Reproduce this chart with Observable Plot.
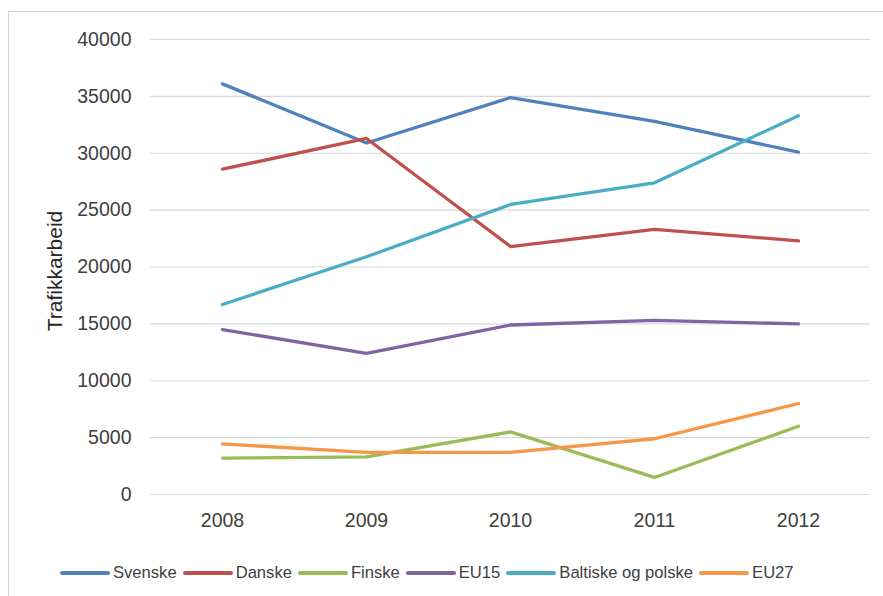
<!DOCTYPE html>
<html>
<head>
<meta charset="utf-8">
<script src="https://cdn.jsdelivr.net/npm/d3@7"></script>
<script src="https://cdn.jsdelivr.net/npm/@observablehq/plot@0.6"></script>
<style>
  html, body { margin: 0; padding: 0; background: #fff; }
  #wrap { position: relative; width: 883px; height: 596px; overflow: hidden; font-family: "Liberation Sans", Arial, sans-serif; }
  #frame { position: absolute; left: 8px; top: 11px; width: 900px; height: 620px; border: 1.5px solid #d4d4d4; box-sizing: border-box; }
  #chart { position: absolute; left: 0; top: 0; }
  #legend { position: absolute; left: 60px; top: 563px; display: flex; align-items: center; font-size: 16.6px; color: #404040; white-space: nowrap; }
  .item { display: flex; align-items: center; margin-right: 6px; }
  .sw { display: inline-block; width: 50px; height: 3.5px; border-radius: 2px; margin-right: 3px; }
</style>
</head>
<body>
<div id="wrap">
  <div id="frame"></div>
  <div id="chart"></div>
  <div id="legend"></div>
</div>
<script>
// Trafikkarbeid by nationality, 2008–2012
const years = ["2008", "2009", "2010", "2011", "2012"];
const svenske = [36100, 30900, 34900, 32800, 30100];
const danske  = [28600, 31300, 21800, 23300, 22300];
const finske  = [3200, 3300, 5500, 1500, 6000];
const eu15    = [14500, 12400, 14900, 15300, 15000];
const baltiske = [16700, 20900, 25500, 27400, 33300];
const eu27    = [4450, 3700, 3700, 4900, 8000];
const yTicks = [0, 5000, 10000, 15000, 20000, 25000, 30000, 35000, 40000];
const yTitle = "Trafikkarbeid";

const seriesNames = ["Svenske", "Danske", "Finske", "EU15", "Baltiske og polske", "EU27"];
const seriesValues = [svenske, danske, finske, eu15, baltiske, eu27];
const colors = ["#4F81BD", "#C0504D", "#9BBB59", "#8064A2", "#4BACC6", "#F79646"];

const rows = seriesNames.flatMap((name, i) =>
  years.map((year, j) => ({ name, year, value: seriesValues[i][j] }))
);

const chart = Plot.plot({
  width: 883,
  height: 545,
  marginLeft: 150,
  marginRight: 13,
  marginTop: 39,
  marginBottom: 51,
  style: { fontFamily: "Liberation Sans, Arial, sans-serif", fontSize: "19px", color: "#404040", background: "transparent" },
  x: { type: "point", domain: years, padding: 0.5, label: null },
  y: { domain: [0, 40000], label: null },
  color: { domain: seriesNames, range: colors },
  marks: [
    Plot.gridY(yTicks, { stroke: "#d9d9d9", strokeOpacity: 1, strokeWidth: 1.2 }),
    Plot.axisX({ tickSize: 0, tickPadding: 19, label: null, fontSize: 19.5 }),
    Plot.axisY(yTicks, { tickSize: 0, tickPadding: 19, tickFormat: d => String(d), fontSize: 19.5, label: null }),
    Plot.text([yTitle], { frameAnchor: "left", textAnchor: "middle", dx: -95, dy: 4, rotate: -90, fontSize: 21, fill: "#262626", text: d => d }),
    Plot.line(rows, { x: "year", y: "value", z: "name", stroke: "name", strokeWidth: 3.3, strokeLinecap: "round", strokeLinejoin: "round" })
  ]
});
document.getElementById("chart").appendChild(chart);

const legend = document.getElementById("legend");
seriesNames.forEach((name, i) => {
  const item = document.createElement("span");
  item.className = "item";
  const sw = document.createElement("span");
  sw.className = "sw";
  sw.style.background = colors[i];
  const label = document.createElement("span");
  label.textContent = name;
  item.appendChild(sw);
  item.appendChild(label);
  legend.appendChild(item);
});
</script>
</body>
</html>
